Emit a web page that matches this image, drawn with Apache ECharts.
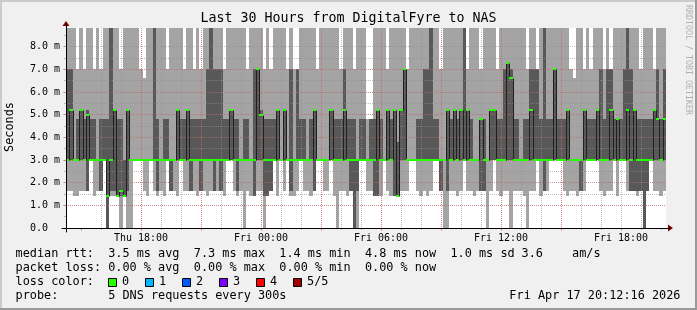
<!DOCTYPE html>
<html><head><meta charset="utf-8">
<script src="https://cdn.jsdelivr.net/npm/echarts@6/dist/echarts.min.js"></script>
<style>html,body{margin:0;padding:0;background:#f0f0f0}#c{width:697px;height:310px}</style>
</head><body><div id="c"></div>
<script>
// ---- data: 180 slots of 10 minutes, Thu 14:15 -> Fri 20:15 (ms) ----
// lowest ping, 2nd ping, median, 4th ping, highest ping (values above the axis top are clipped)
const lo = [
1.65,1.65,1.4,1.4,1.65,1.65,1.65,3,1.4,1.65, 1.65,3,0,1.4,1.4,1.4,0,1.4,0,0, 3,3,3,1.65,1.4,3,1.65,1.4,1.65,1.4, 3,1.65,1.65,1.4,3,1.65,1.65,3,1.65,1.4, 1.65,1.65,1.4,1.65,1.65,
1.65,1.65,1.4,3,3,1.65,1.4,1.65,0,1.65, 1.4,1.4,1.65,1.65,0,1.4,1.65,3,1.4,3, 1.65,3,1.4,1.4,1.65,3,1.65,1.65,1.4,1.65, 3,3,1.65,1.65,3,1.4,0,1.65,1.65,1.4, 1.65,0,0,3,3,
1.65,1.65,1.4,1.4,1.4,3,1.65,1.4,1.4,1.4, 1.65,1.65,1.65,3,3,1.65,1.4,1.65,1.4,1.65, 3,3,1.65,0,0,1.65,1.65,1.4,1.65,3, 1.65,1.65,1.4,1.65,1.65,1.65,0,1.65,3,1.65, 1.4,1.65,1.65,0,1.65,
1.65,1.65,1.4,0,1.65,1.65,3,1.4,1.65,1.65, 3,3,3,3,1.65,1.4,1.65,1.65,1.4,1.65, 1.65,3,3,3,3,1.65,1.4,1.65,1.65,3, 1.4,3,3,1.65,1.65,1.65,1.4,1.65,0,1.65, 3,1.65,1.65,1.4,1.65
];
const q1 = [
3,3,3,3,3,3,1.65,3,3,3, 1.65,3,0,1.65,1.65,1.4,1.4,1.4,1.65,3, 3,3,3,3,3,3,3,1.65,3,3, 3,1.65,3,3,3,3,3,1.65,3,3, 1.65,3,3,3,1.65,
3,1.65,3,3,3,3,1.65,3,3,3, 3,1.4,3,3,1.4,1.4,1.65,3,3,3, 3,3,1.65,3,3,3,3,3,3,1.65, 3,3,3,3,3,3,3,3,3,3, 1.65,0,1.65,3,3,
3,3,1.4,1.4,3,3,3,3,1.4,1.4, 3,3,3,3,3,3,3,3,3,3, 3,3,1.65,3,1.65,3,3,3,3,3, 3,3,3,3,1.65,1.65,3,3,3,3, 3,3,3,3,3,
3,3,3,3,3,3,3,3,1.65,3, 3,3,3,3,3,3,3,3,3,1.65, 3,3,3,3,3,3,3,3,3,3, 3,3,3,3,1.65,1.65,1.65,1.65,0,1.65, 3,3,3,3,3
];
const med = [
3,5.2,3,3,5.2,3,5,3,3,3, 3,3,1.4,3,5.2,1.4,1.65,1.4,5.2,3, 3,3,3,3,3,3,3,3,3,3, 3,3,3,5.2,3,3,5.2,3,3,3, 3,3,3,3,3,
3,3,3,3,5.2,3,3,3,3,3, 3,3,7,5,3,3,3,3,5.2,3, 5.2,3,3,3,3,3,3,3,3,5.2, 3,3,3,3,5.2,3,3,3,5.2,3, 3,3,3,3,3,
3,3,3,5.2,3,3,5.2,3,5.2,1.4, 5.2,7,3,3,3,3,3,3,3,3, 3,3,3,3,5.2,3,5.2,3,5.2,3, 5.2,3,3,3,4.8,3,3,5.2,5.2,3, 3,3,7.3,6.6,3,
3,3,3,3,5.2,3,3,3,3,3, 3,7,3,3,3,5.2,3,3,3,3, 5.2,3,3,3,5.2,3,3,3,5.2,3, 4.8,3,3,5.2,3,5.2,3,3,3,3, 3,5.2,4.8,3,4.8
];
const q3 = [
7,7,3,4.8,5.2,4.8,5.2,4.8,4.8,3, 4.8,4.8,4.8,9,5.2,4.8,4.8,3,5.2,3, 3,3,3,3,3,3,9,4.8,3,4.8, 4.8,3,3,5.2,4.8,4.8,5.2,4.8,4.8,4.8, 4.8,4.8,7,9,7,
7,7,4.8,4.8,5.2,4.8,4.8,3,4.8,4.8, 3,7,7,5.2,4.8,4.8,4.8,4.8,5.2,3, 5.2,3,7,3,7,4.8,4.8,3,4.8,5.2, 3,3,3,3,5.2,4.8,4.8,4.8,7,4.8, 4.8,4.8,3,4.8,4.8,
3,4.8,4.8,5.2,4.8,3,5.2,4.8,5.2,3.8, 5.2,7,3,3,3,4.8,4.8,7,7,9, 4.8,4.8,3,3,5.2,4.8,5.2,4.8,5.2,9, 5.2,4.8,3,3,4.8,4.8,3,5.2,5.2,4.8, 4.8,7,7.3,7,4.8,
4.8,3,4.8,4.8,7,7,7,4.8,9,4.8, 4.8,7,4.8,4.8,4.8,5.2,3,3,3,3, 5.2,4.8,4.8,4.8,5.2,7,4.8,7,7,4.8, 4.8,4.8,7,9,7,5.2,4.8,4.8,4.8,4.8, 4.8,5.2,7,4.8,7
];
const hi = [
9,9,9,7,9,7,9,9,7,9, 7,9,9,9,9,9,7,9,9,9, 9,9,7,6.6,9,9,9,9,9,9, 7,9,9,9,9,7,9,9,7,9, 7,9,9,9,9,
9,9,7,9,9,9,9,9,9,7, 9,9,9,9,7,9,7,9,9,9, 9,7,9,7,7,9,9,9,9,9, 7,9,9,9,9,9,9,7,9,9, 9,7,9,9,9,
4.8,4.8,9,9,9,9,7,9,9,9, 9,9,7,9,9,9,9,9,9,9, 9,9,7,9,9,9,9,9,9,9, 7,9,9,9,7,9,9,9,9,7, 9,9,9,9,9,
9,9,9,7,9,9,7,9,9,9, 9,9,9,9,9,9,7,6.6,9,9, 7,9,7,9,9,9,7,9,7,9, 9,9,9,9,9,9,9,7,9,9, 9,7,9,9,9
];
const startHour = 14.25;      // Thu 14:15 (hours since Thu 00:00)
const stepHours = 1 / 6;      // 10 minutes per slot
const timeLabels = {18: 'Thu 18:00', 24: 'Fri 00:00', 30: 'Fri 06:00', 36: 'Fri 12:00', 42: 'Fri 18:00'};
const yLabels = ['0.0  ', '1.0 m', '2.0 m', '3.0 m', '4.0 m', '5.0 m', '6.0 m', '7.0 m', '8.0 m'];
const lossLabels = ['0', '1', '2', '3', '4', '5/5'];
const lossColors = ['#26ff00', '#00b8ff', '#0059ff', '#7e00ff', '#ff0000', '#a10000'];
const titleText = 'Last 30 Hours from DigitalFyre to NAS';
const statsRtt = 'median rtt:  3.5 ms avg  7.3 ms max  1.4 ms min  4.8 ms now  1.0 ms sd';
const statsRttSd = '3.6', statsRttUnit = 'am/s';
const statsLoss = 'packet loss: 0.00 % avg  0.00 % max  0.00 % min  0.00 % now';
const probeText = 'probe:       5 DNS requests every 300s';
const dateText = 'Fri Apr 17 20:12:16 2026';

// ---- layout / style ----
const FONT = '"DejaVu Sans Mono", monospace';
const N = med.length;
const xMin = startHour, xMax = startHour + N * stepHours;
const yMax = 8.826;
const P = {left: 66, top: 28, width: 600, height: 200};
const ppu = P.height / yMax;
const top9 = P.top + P.height - 9 * ppu;
const GRID = 'rgba(143,143,143,0.6)';
const MGRID = 'rgba(222,79,79,0.45)';

const smokeData = med.map((m, i) => [startHour + i * stepHours, startHour + (i + 1) * stepHours, lo[i], q1[i], q3[i], hi[i]]);
const medData = med.map((m, i) => [startHour + i * stepHours, startHour + (i + 1) * stepHours, m, i > 0 ? med[i - 1] : m]);

function renderSmoke(params, api) {
  const x0 = Math.round(api.coord([api.value(0), 0])[0]);
  const x1 = Math.round(api.coord([api.value(1), 0])[0]);
  const Y = v => Math.round(api.coord([api.value(0), v])[1]);
  const yl = Y(api.value(2)), y2 = Y(api.value(3)), y4 = Y(api.value(4)), yh = Y(api.value(5));
  return {type: 'group', children: [
    {type: 'rect', shape: {x: x0, y: yh, width: x1 - x0, height: yl - yh}, style: {fill: '#a4a4a4'}},
    {type: 'rect', shape: {x: x0, y: y4, width: x1 - x0, height: y2 - y4}, style: {fill: '#585858'}}
  ]};
}
function renderMedian(params, api) {
  const x0 = Math.round(api.coord([api.value(0), 0])[0]);
  const x1 = Math.round(api.coord([api.value(1), 0])[0]);
  const y = Math.round(api.coord([api.value(0), api.value(2)])[1]);
  const yp = Math.round(api.coord([api.value(0), api.value(3)])[1]);
  return {type: 'group', children: [
    {type: 'line', shape: {x1: x0 + 0.5, y1: yp + 0.5, x2: x0 + 0.5, y2: y + 0.5}, style: {stroke: '#202020', lineWidth: 1}},
    {type: 'line', shape: {x1: x0, y1: y + 0.5, x2: x1, y2: y + 0.5}, style: {stroke: '#202020', lineWidth: 1}},
    {type: 'rect', shape: {x: x0, y: y - 1, width: x1 - x0, height: 2}, style: {fill: lossColors[0]}}
  ]};
}

const range = (a, b, s) => { const r = []; for (let v = a; v <= b + 1e-9; v += s) r.push(+v.toFixed(2)); return r; };
const off = {show: false};
const hiddenX = (g, mn, mx) => ({gridIndex: g, type: 'value', min: mn, max: mx, show: false});
const hiddenY = hiddenX;

const grids = [
  {left: P.left, top: P.top, width: P.width, height: P.height, show: true, backgroundColor: '#ffffff', borderWidth: 0},
  {left: P.left - 5, top: P.top, width: 620, height: P.height},
  {left: P.left - 45, top: P.top, width: 660, height: P.height},
  {left: P.left, top: top9, width: P.width, height: 9 * ppu},
  {left: P.left, top: top9, width: P.width, height: 9 * ppu},
  {left: 62, top: 128, width: 608, height: 100},
  {left: 66, top: 24, width: 100, height: 208},
  {left: 66, top: 128, width: 604.5, height: 100},
  {left: 66, top: 23.5, width: 100, height: 204.5}
];

// grid lines sit above the smoke (z 2-3) but below the median line (z 5)
const xAxes = [
  hiddenX(0, xMin, xMax),
  {gridIndex: 1, type: 'value', min: 14, max: 45, interval: 1, z: 2,
   axisLine: off,
   axisTick: {show: true, length: 2, customValues: range(15, 44, 1), lineStyle: {color: GRID}},
   axisLabel: {show: true, margin: 5, fontSize: 10, fontFamily: FONT, color: '#000', customValues: [18, 24, 30, 36, 42],
               formatter: v => timeLabels[v] || ''},
   splitLine: {show: true, showMinLine: false, showMaxLine: false, lineStyle: {color: GRID, width: 1, type: [1, 1]}}},
  {gridIndex: 2, type: 'value', min: 12, max: 45, interval: 3, z: 3,
   axisLine: off,
   axisTick: {show: true, length: 3, customValues: range(15, 42, 3), lineStyle: {color: MGRID}},
   axisLabel: off,
   splitLine: {show: true, showMinLine: false, showMaxLine: false, lineStyle: {color: MGRID, width: 1, type: [1, 1]}}},
  hiddenX(3, 0, 1), hiddenX(4, 0, 1),
  {gridIndex: 5, type: 'value', min: 0, max: 1, z: 10, axisLine: {show: true, onZero: false, lineStyle: {color: '#000', width: 1}},
   axisTick: off, axisLabel: off, splitLine: off},
  hiddenX(6, 0, 1),
  {gridIndex: 7, type: 'value', min: 0, max: 1, z: 9,
   axisLine: {show: true, onZero: false, symbol: ['none', 'triangle'], symbolSize: [7, 5], lineStyle: {color: '#800000', width: 1}},
   axisTick: off, axisLabel: off, splitLine: off},
  hiddenX(8, 0, 1)
];
const yAxes = [
  hiddenY(0, 0, yMax), hiddenY(1, 0, 1), hiddenY(2, 0, 1),
  {gridIndex: 3, type: 'value', min: 0, max: 9, interval: 0.5, z: 2,
   axisLine: off,
   axisTick: {show: true, length: 2, customValues: range(0.5, 8.5, 0.5), lineStyle: {color: GRID}},
   axisLabel: off,
   splitLine: {show: true, showMinLine: false, showMaxLine: false, lineStyle: {color: GRID, width: 1, type: [1, 1]}}},
  {gridIndex: 4, type: 'value', min: 0, max: 9, interval: 1, z: 3,
   axisLine: off,
   axisTick: {show: true, length: 3, customValues: range(0, 8, 1), lineStyle: {color: MGRID}},
   axisLabel: {show: true, margin: 6, fontSize: 10, fontFamily: FONT, color: '#000', customValues: range(0, 8, 1),
               formatter: v => yLabels[Math.round(v)] || ''},
   splitLine: {show: true, showMinLine: false, showMaxLine: false, lineStyle: {color: MGRID, width: 1, type: [1, 1]}}},
  hiddenY(5, 0, 1),
  {gridIndex: 6, type: 'value', min: 0, max: 1, z: 10, axisLine: {show: true, onZero: false, lineStyle: {color: '#000', width: 1}},
   axisTick: off, axisLabel: off, splitLine: off},
  hiddenY(7, 0, 1),
  {gridIndex: 8, type: 'value', min: 0, max: 1, z: 9,
   axisLine: {show: true, onZero: false, symbol: ['none', 'triangle'], symbolSize: [7, 5], lineStyle: {color: '#800000', width: 1}},
   axisTick: off, axisLabel: off, splitLine: off}
];

const legendFont = '11.85px ' + FONT;
const graphics = [
  {type: 'rect', shape: {x: 0, y: 0, width: 697, height: 2}, style: {fill: '#cbcbcb'}, silent: true},
  {type: 'rect', shape: {x: 0, y: 0, width: 2, height: 310}, style: {fill: '#cbcbcb'}, silent: true},
  {type: 'rect', shape: {x: 695, y: 0, width: 2, height: 310}, style: {fill: '#999999'}, silent: true},
  {type: 'rect', shape: {x: 0, y: 308, width: 697, height: 2}, style: {fill: '#999999'}, silent: true},
  {type: 'text', x: 348.5, y: 19, style: {text: titleText, font: '13.3px ' + FONT, fill: '#000', align: 'center', verticalAlign: 'middle'}},
  {type: 'text', x: 10, y: 127, rotation: Math.PI / 2, style: {text: 'Seconds', font: legendFont, fill: '#000', align: 'center', verticalAlign: 'middle'}},
  {type: 'text', x: 688.5, y: 60, rotation: -Math.PI / 2, style: {text: 'RRDTOOL / TOBI OETIKER', font: '8.3px ' + FONT, fill: '#b0b0b0', align: 'center', verticalAlign: 'middle'}},
  {type: 'text', x: 15.5, y: 254, style: {text: statsRtt, font: legendFont, fill: '#000', verticalAlign: 'middle'}},
  {type: 'text', x: 521.5, y: 254, style: {text: statsRttSd, font: legendFont, fill: '#000', verticalAlign: 'middle'}},
  {type: 'text', x: 572, y: 254, style: {text: statsRttUnit, font: legendFont, fill: '#000', verticalAlign: 'middle'}},
  {type: 'text', x: 15.5, y: 268, style: {text: statsLoss, font: legendFont, fill: '#000', verticalAlign: 'middle'}},
  {type: 'text', x: 15.5, y: 282, style: {text: 'loss color:', font: legendFont, fill: '#000', verticalAlign: 'middle'}},
  {type: 'text', x: 15.5, y: 296, style: {text: probeText, font: legendFont, fill: '#000', verticalAlign: 'middle'}},
  {type: 'text', x: 680.5, y: 296, style: {text: dateText, font: legendFont, fill: '#000', align: 'right', verticalAlign: 'middle'}}
];
lossLabels.forEach((lab, i) => {
  graphics.push({type: 'rect', shape: {x: 108.5 + 37 * i, y: 278.5, width: 8, height: 8}, style: {fill: lossColors[i], stroke: '#000', lineWidth: 1}});
  graphics.push({type: 'text', x: 122 + 37 * i, y: 282, style: {text: lab, font: legendFont, fill: '#000', verticalAlign: 'middle'}});
});

const chart = echarts.init(document.getElementById('c'), null, {renderer: 'canvas'});
chart.setOption({
  animation: false,
  backgroundColor: '#f0f0f0',
  grid: grids,
  xAxis: xAxes,
  yAxis: yAxes,
  graphic: graphics,
  series: [
    {type: 'custom', name: 'smoke', xAxisIndex: 0, yAxisIndex: 0, data: smokeData, renderItem: renderSmoke,
     encode: {x: [0, 1], y: [2, 5]}, clip: true, silent: true, z: 1},
    {type: 'custom', name: 'median', xAxisIndex: 0, yAxisIndex: 0, data: medData, renderItem: renderMedian,
     encode: {x: [0, 1], y: [2, 3]}, clip: true, silent: true, z: 5}
  ]
});
</script></body></html>
